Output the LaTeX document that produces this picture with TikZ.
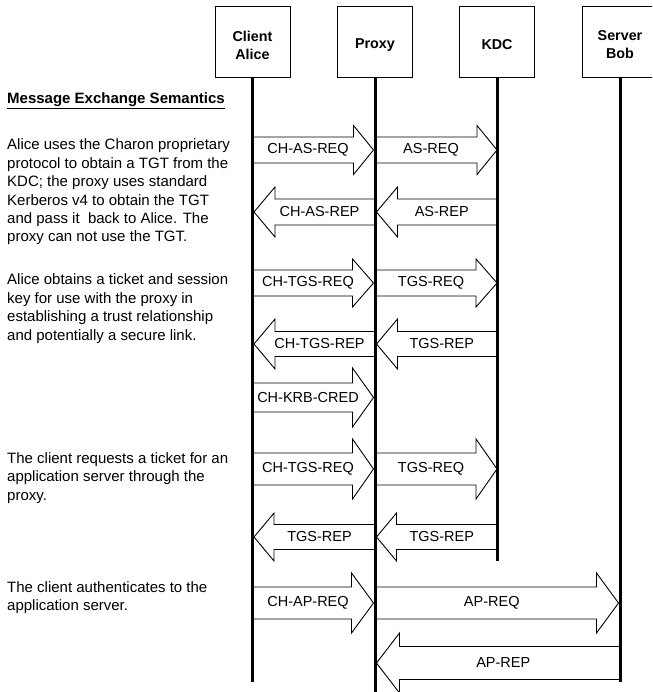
\documentclass[tikz,border=0pt]{standalone}
\usepackage{fontspec}
\setmainfont{Liberation Sans}

% Block arrow with a centred label:
% #1 tail x, #2 tip x, #3 y, #4 half shaft width, #5 half head width,
% #6 head length, #7 label node name, #8 label text
\newcommand\blockmsg[8]{%
  \pgfmathsetmacro\bmBase{#2 - #6*sign(#2-#1)}%
  \pgfmathsetmacro\bmMid{(#1+#2)/2 - 5*sign(#2-#1)}%
  \draw[msgarrow] (#1,#3-#4) -- (\bmBase,#3-#4) -- (\bmBase,#3-#5) -- (#2,#3)
    -- (\bmBase,#3+#5) -- (\bmBase,#3+#4) -- (#1,#3+#4) -- cycle;
  \node[msglabel] (#7) at (\bmMid,#3) {#8};%
}

\begin{document}
\begin{tikzpicture}[x=1pt,y=-1pt,
  actor/.style={draw, line width=1pt, fill=white, minimum width=75pt,
    minimum height=71pt, inner sep=0pt},
  actorlabel/.style={inner sep=0pt, align=center,
    font=\fontsize{14.3}{18}\selectfont\bfseries},
  lifeline/.style={line width=3pt},
  msgarrow/.style={draw, fill=white, line width=0.9pt, line join=miter},
  msglabel/.style={inner sep=0pt, font=\fontsize{14.5}{17}\selectfont},
  note/.style={anchor=base west, inner sep=0pt, align=left,
    font=\fontsize{15}{18.4}\selectfont}]

\useasboundingbox (0,0) rectangle (652,692);
\clip (0,0) rectangle (652,692);

% lifeline positions
\def\xA{252.5}
\def\xP{375}
\def\xK{497}
\def\xB{620}

% participants
\node[actor] (alice) at (\xA,42.5) {};
\node[actor] (proxy) at (\xP,42.5) {};
\node[actor] (kdc)   at (\xK,42.5) {};
\node[actor] (bob)   at (\xB,42.5) {};
\node[actorlabel] (aliceLabel) at ([yshift=-2.5pt]alice.center) {Client\\Alice};
\node[actorlabel] (proxyLabel) at ([yshift=-2.5pt]proxy.center) {Proxy};
\node[actorlabel] (kdcLabel)   at ([yshift=-2.5pt]kdc.center)   {KDC};
\node[actorlabel] (bobLabel)   at ([yshift=-2.5pt]bob.center)   {Server\\Bob};

% message arrows
\blockmsg{\xA}{\xP-1.5}{150}{13}{24.5}{20}{m1a}{CH-AS-REQ}
\blockmsg{\xP}{\xK}{150}{13}{24.5}{20}{m1b}{AS-REQ}
\blockmsg{\xP}{\xA+1.5}{212}{13}{25}{21}{m2a}{CH-AS-REP}
\blockmsg{\xK}{\xP+1.5}{212}{13}{25}{21}{m2b}{AS-REP}
\blockmsg{\xA}{\xP-1.5}{283}{13}{24}{21}{m3a}{CH-TGS-REQ}
\blockmsg{\xP}{\xK}{283}{13}{24}{21}{m3b}{TGS-REQ}
\blockmsg{\xP}{\xA+1.5}{344}{12.5}{25}{21}{m4a}{CH-TGS-REP}
\blockmsg{\xK}{\xP+1.5}{344}{12.5}{25}{21}{m4b}{TGS-REP}
\blockmsg{\xA}{\xP-1.5}{397.5}{14.5}{29.5}{21}{m5a}{CH-KRB-CRED}
\blockmsg{\xA}{\xP-1.5}{469}{16}{30}{21}{m6a}{CH-TGS-REQ}
\blockmsg{\xP}{\xK}{469}{16}{30}{21}{m6b}{TGS-REQ}
\blockmsg{\xP}{\xA+1.5}{537}{12.5}{24}{20}{m7a}{TGS-REP}
\blockmsg{\xK}{\xP+1.5}{537}{12.5}{24}{20}{m7b}{TGS-REP}
\blockmsg{\xA}{\xP-1.5}{603}{16}{30}{22}{m8a}{CH-AP-REQ}
\blockmsg{\xP}{\xB-1.5}{603}{16}{30}{22}{m8b}{AP-REQ}
\blockmsg{\xB}{\xP+1.5}{663}{16.5}{30}{23}{m9a}{AP-REP}

% lifelines
\coordinate (aliceEnd) at (\xA,682);
\coordinate (proxyEnd) at (\xP,700);
\coordinate (kdcEnd)   at (\xK,561);
\coordinate (bobEnd)   at (\xB,682);
\draw[lifeline] (alice.south) -- (aliceEnd);
\draw[lifeline] (proxy.south) -- (proxyEnd);
\draw[lifeline] (kdc.south)   -- (kdcEnd);
\draw[lifeline] (bob.south)   -- (bobEnd);

% explanatory notes (anchored on the baseline of their last line)
\node[note, font=\fontsize{15}{18.4}\selectfont\bfseries] (heading) at (7,103.5)
  {\underline{Message Exchange Semantics}};
\node[note] (n1) at (7,242) {Alice uses the Charon proprietary\\
  protocol to obtain a TGT from the\\
  KDC; the proxy uses standard\\
  Kerberos v4 to obtain the TGT\\
  and pass it\ \ back to Alice. The\\
  proxy can not use the TGT.};
\node[note] (n2) at (7,340) {Alice obtains a ticket and session\\
  key for use with the proxy in\\
  establishing a trust relationship\\
  and potentially a secure link.};
\node[note] (n3) at (7,500) {The client requests a ticket for an\\
  application server through the\\
  proxy.};
\node[note] (n4) at (7,610.5) {The client authenticates to the\\
  application server.};
\end{tikzpicture}
\end{document}
